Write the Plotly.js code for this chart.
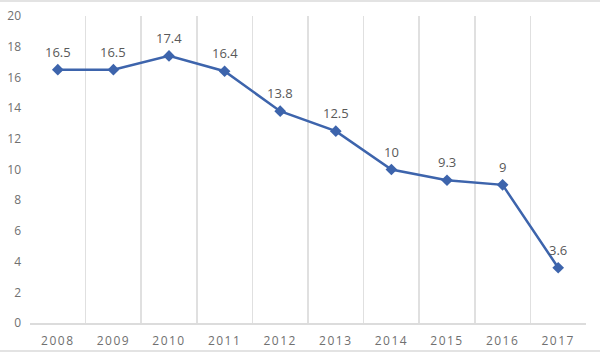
<!DOCTYPE html>
<html>
<head>
<meta charset="utf-8">
<script src="https://cdn.plot.ly/plotly-3.0.1.min.js"></script>
<style>
html,body{margin:0;padding:0;background:#fff;}
#wrap{position:relative;width:600px;height:353px;}
#chart{width:600px;height:353px;}
.rule{position:absolute;left:0;width:600px;height:2px;background:#e3e3e3;}
.xaxislayer-above .xtick text{letter-spacing:1.5px;}
</style>
</head>
<body>
<div id="wrap">
<div id="chart"></div>
<div class="rule" style="top:0px;"></div>
<div class="rule" style="top:350px;"></div>
</div>
<script>
const years = ['2008','2009','2010','2011','2012','2013','2014','2015','2016','2017'];
const values = [16.5,16.5,17.4,16.4,13.8,12.5,10,9.3,9,3.6];
const labels = values.map(v => String(v));

const trace = {
  x: years, y: values, type: 'scatter', mode: 'lines+markers',
  line: {color: '#3D64AC', width: 2.5},
  marker: {symbol: 'diamond', size: 9, color: '#3D64AC'},
  cliponaxis: false, hoverinfo: 'skip'
};

const annotations = years.map((yr, i) => ({
  x: i, y: values[i], xref: 'x', yref: 'y', text: labels[i], showarrow: false,
  yshift: 18, font: {family: 'Open Sans, Noto Sans, sans-serif', size: 13, color: '#595959'}
}));

const layout = {
  width: 600, height: 353,
  margin: {l: 30, r: 14, t: 16, b: 30},
  paper_bgcolor: '#fff', plot_bgcolor: '#fff',
  showlegend: false,
  annotations: annotations,
  font: {family: 'Open Sans, Noto Sans, sans-serif', color: '#707070', size: 12},
  xaxis: {
    type: 'category', range: [-0.5, years.length - 0.5], tickson: 'boundaries', showgrid: true, gridcolor: '#e0e0e0', gridwidth: 1.5,
    showline: true, linecolor: '#dcdcdc', linewidth: 1.5, ticks: '', zeroline: false, automargin: false,
    tickfont: {size: 12, color: '#707070'}, ticklabelstandoff: 6, fixedrange: true
  },
  yaxis: {
    range: [0, 20], dtick: 2, showgrid: false, zeroline: false, showline: false, ticks: '', automargin: false,
    tickfont: {size: 12, color: '#707070'}, ticklabelstandoff: 8, fixedrange: true
  }
};

Plotly.newPlot('chart', [trace], layout, {displayModeBar: false, staticPlot: true});
</script>
</body>
</html>
